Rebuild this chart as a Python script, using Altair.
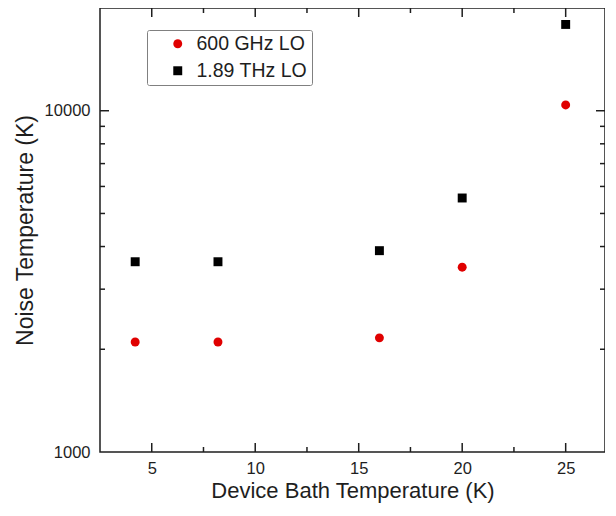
import altair as alt
import pandas as pd

# ---- data ----
temps = [4.2, 8.2, 16, 20, 25]
tn_600ghz = [2100, 2100, 2160, 3480, 10400]
tn_189thz = [3610, 3610, 3890, 5550, 17900]
series_names = ["600 GHz LO", "1.89 THz LO"]

x_major_ticks = [5, 10, 15, 20, 25]
x_minor_ticks = [7.5, 12.5, 17.5, 22.5]
y_labels = [1000, 10000]
y_major_ticks = [10000]
y_minor_ticks = [2000, 3000, 4000, 5000, 6000, 7000, 8000, 9000]

W, H = 505, 444
INK = "#1e1e1e"
FONT = "Liberation Sans"

rows = []
for t, v in zip(temps, tn_600ghz):
    rows.append({"T": t, "Tn": v, "series": series_names[0]})
for t, v in zip(temps, tn_189thz):
    rows.append({"T": t, "Tn": v, "series": series_names[1]})
df = pd.DataFrame(rows)

xscale = alt.Scale(domain=[2.5, 26.9], nice=False, zero=False)
yscale = alt.Scale(type="log", domain=[1000, 20000], nice=False)

x_axis = alt.Axis(values=x_major_ticks, ticks=False, tickSize=0, domain=False,
                  grid=False, labelFontSize=16.5, labelPadding=8, labelFlush=False,
                  labelColor=INK, titleFontSize=22, titleFontWeight="normal",
                  titleColor=INK, titlePadding=4)
y_axis = alt.Axis(values=y_labels, ticks=False, tickSize=0, domain=False,
                  grid=False, labelFontSize=16.5, labelPadding=10, labelFlush=False,
                  labelColor=INK, titleFontSize=23, titleFontWeight="normal",
                  titleColor=INK, titlePadding=7, format="d")
X_TITLE = "Device Bath Temperature (K)"
Y_TITLE = "Noise Temperature (K)"

legend = alt.Legend(
    title=None, orient="none", legendX=47, legendY=22,
    strokeColor="#808080", fillColor="white", cornerRadius=2,
    padding=4, rowPadding=6, symbolOffset=17, labelOffset=9,
    labelFontSize=19.5, labelFont=FONT, labelColor=INK,
    symbolSize=80, symbolStrokeWidth=0,
)

points = alt.Chart(df).mark_point(filled=True, size=80, opacity=1).encode(
    x=alt.X("T:Q", scale=xscale, title=X_TITLE, axis=x_axis),
    y=alt.Y("Tn:Q", scale=yscale, title=Y_TITLE, axis=y_axis),
    color=alt.Color("series:N", scale=alt.Scale(domain=series_names, range=["#e00000", "#000000"]),
                    legend=legend),
    shape=alt.Shape("series:N", scale=alt.Scale(domain=series_names, range=["circle", "square"]),
                    legend=legend),
)

def xticks(vals, length):
    d = pd.DataFrame({"T": vals})
    base = alt.Chart(d).mark_rule(color=INK, strokeWidth=1.5)
    enc_x = alt.X("T:Q", scale=xscale, title=X_TITLE, axis=x_axis)
    bottom = base.encode(x=enc_x, y=alt.value(H), y2=alt.value(H - length))
    top = base.encode(x=enc_x, y=alt.value(0), y2=alt.value(length))
    return [bottom, top]

def yticks(vals, length):
    d = pd.DataFrame({"Tn": vals})
    base = alt.Chart(d).mark_rule(color=INK, strokeWidth=1.5)
    enc_y = alt.Y("Tn:Q", scale=yscale, title=Y_TITLE, axis=y_axis)
    left = base.encode(y=enc_y, x=alt.value(0), x2=alt.value(length))
    right = base.encode(y=enc_y, x=alt.value(W), x2=alt.value(W - length))
    return [left, right]

layers = [points] + (xticks(x_major_ticks, 9) + xticks(x_minor_ticks, 5)
                     + yticks(y_major_ticks, 9) + yticks(y_minor_ticks, 5))

chart = alt.layer(*layers).properties(
    width=W, height=H,
    autosize=alt.AutoSizeParams(type="none"),
    padding={"left": 92, "top": 0, "right": 0, "bottom": 56},
).configure(font=FONT).configure_view(stroke=INK, strokeWidth=1.5)

chart.save("out.html", embed_options={"renderer": "svg", "actions": False})
